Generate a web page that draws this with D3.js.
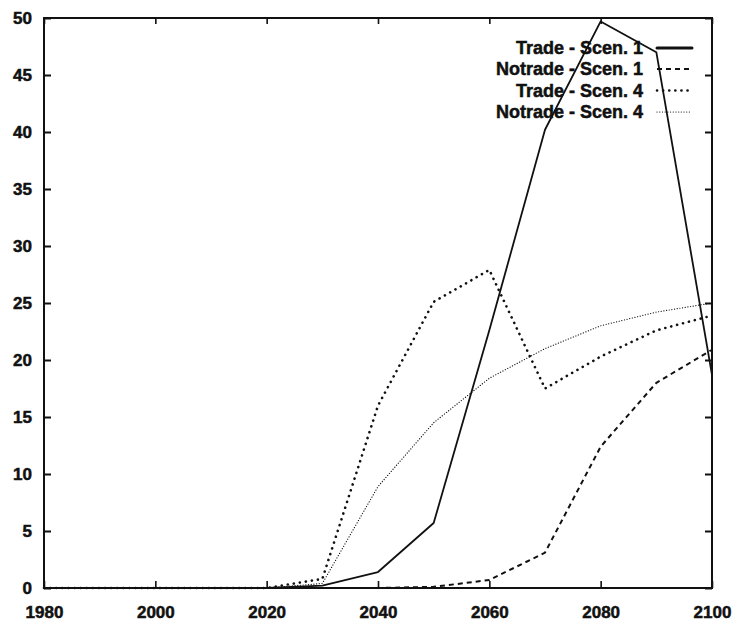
<!DOCTYPE html>
<html>
<head>
<meta charset="utf-8">
<script src="https://cdn.jsdelivr.net/npm/d3@7"></script>
<style>
  html, body { margin: 0; padding: 0; background: #fff; }
  svg { display: block; }
  text { font-family: "Liberation Sans", Arial, Helvetica, sans-serif; font-weight: bold; fill: #111; stroke: #111; stroke-width: 0.5; }
</style>
</head>
<body>
<svg id="chart" width="737" height="625"></svg>
<script>
// Years sampled every decade
const years = [1980, 1990, 2000, 2010, 2020, 2030, 2040, 2050, 2060, 2070, 2080, 2090, 2100];

// Series values per year
const tradeScen1   = [0, 0, 0, 0, 0, 0.2, 1.4, 5.7, 22.6, 40.2, 49.7, 47.0, 18.7];
const notradeScen1 = [0, 0, 0, 0, 0, 0, 0, 0.1, 0.7, 3.1, 12.4, 18.0, 20.9];
const tradeScen4   = [0, 0, 0, 0, 0, 0.8, 16.0, 25.1, 27.9, 17.5, 20.3, 22.6, 23.9];
const notradeScen4 = [0, 0, 0, 0, 0, 0.4, 8.9, 14.5, 18.4, 21.0, 23.0, 24.2, 25.0];

const seriesNames = ["Trade - Scen. 1", "Notrade - Scen. 1", "Trade - Scen. 4", "Notrade - Scen. 4"];
const seriesValues = [tradeScen1, notradeScen1, tradeScen4, notradeScen4];

const xTicks = [1980, 2000, 2020, 2040, 2060, 2080, 2100];
const yTicks = [0, 5, 10, 15, 20, 25, 30, 35, 40, 45, 50];

// Line styling per series
const styles = [
  { width: 1.8, dash: null, cap: "round" },
  { width: 2.0, dash: "5,4", cap: "butt" },
  { width: 2.6, dash: "0.1,6", cap: "round" },
  { width: 1.2, dash: "0.1,2.6", cap: "round" }
];

const svg = d3.select("#chart");
const plot = { left: 44, right: 712, top: 18, bottom: 588 };

const x = d3.scaleLinear().domain([1980, 2100]).range([plot.left, plot.right]);
const y = d3.scaleLinear().domain([0, 50]).range([plot.bottom, plot.top]);

// Series lines
const line = d3.line().x(d => x(d[0])).y(d => y(d[1]));
seriesValues.forEach((vals, i) => {
  const pts = years.map((yr, j) => [yr, vals[j]]);
  const s = styles[i];
  svg.append("path")
    .datum(pts)
    .attr("d", line)
    .attr("fill", "none")
    .attr("stroke", "#111")
    .attr("stroke-width", s.width)
    .attr("stroke-linejoin", "round")
    .attr("stroke-linecap", s.cap)
    .attr("stroke-dasharray", s.dash);
});

// Frame
svg.append("rect")
  .attr("x", plot.left).attr("y", plot.top)
  .attr("width", plot.right - plot.left).attr("height", plot.bottom - plot.top)
  .attr("fill", "none").attr("stroke", "#111").attr("stroke-width", 2);

// Bottom axis: inward ticks, labels below
const bottomAxis = d3.axisBottom(x).tickValues(xTicks).tickFormat(d3.format("d"))
  .tickSizeInner(-7).tickSizeOuter(0).tickPadding(18);
const gb = svg.append("g").attr("transform", `translate(0,${plot.bottom})`).call(bottomAxis);
gb.select(".domain").remove();
gb.selectAll("line").attr("stroke", "#111").attr("stroke-width", 1.6);
gb.selectAll("text").attr("font-size", 17).attr("font-family", null).attr("fill", "#111");

// Top axis: inward ticks only
const topAxis = d3.axisTop(x).tickValues(xTicks).tickFormat("").tickSizeInner(-6).tickSizeOuter(0);
const gt = svg.append("g").attr("transform", `translate(0,${plot.top})`).call(topAxis);
gt.select(".domain").remove();
gt.selectAll("line").attr("stroke", "#111").attr("stroke-width", 1.6);

// Left axis: inward ticks, labels on the left
const leftAxis = d3.axisLeft(y).tickValues(yTicks).tickFormat(d3.format("d"))
  .tickSizeInner(-7).tickSizeOuter(0).tickPadding(12);
const gl = svg.append("g").attr("transform", `translate(${plot.left},0)`).call(leftAxis);
gl.select(".domain").remove();
gl.selectAll("line").attr("stroke", "#111").attr("stroke-width", 2);
gl.selectAll("text").attr("font-size", 17).attr("font-family", null).attr("fill", "#111");

// Right axis: inward ticks only
const rightAxis = d3.axisRight(y).tickValues(yTicks).tickFormat("").tickSizeInner(-7).tickSizeOuter(0);
const gr = svg.append("g").attr("transform", `translate(${plot.right},0)`).call(rightAxis);
gr.select(".domain").remove();
gr.selectAll("line").attr("stroke", "#111").attr("stroke-width", 2);

// Legend
const legend = svg.append("g");
const rowY = [48, 69, 90.5, 112];
seriesNames.forEach((name, i) => {
  legend.append("text")
    .attr("x", 643).attr("y", rowY[i] + 6)
    .attr("text-anchor", "end")
    .attr("font-size", 18)
    .text(name);
  const s = styles[i];
  legend.append("line")
    .attr("x1", 657).attr("x2", 692)
    .attr("y1", rowY[i]).attr("y2", rowY[i])
    .attr("stroke", "#111")
    .attr("stroke-width", i === 0 ? 3 : s.width)
    .attr("stroke-linecap", s.cap)
    .attr("stroke-dasharray", s.dash);
});
</script>
</body>
</html>
